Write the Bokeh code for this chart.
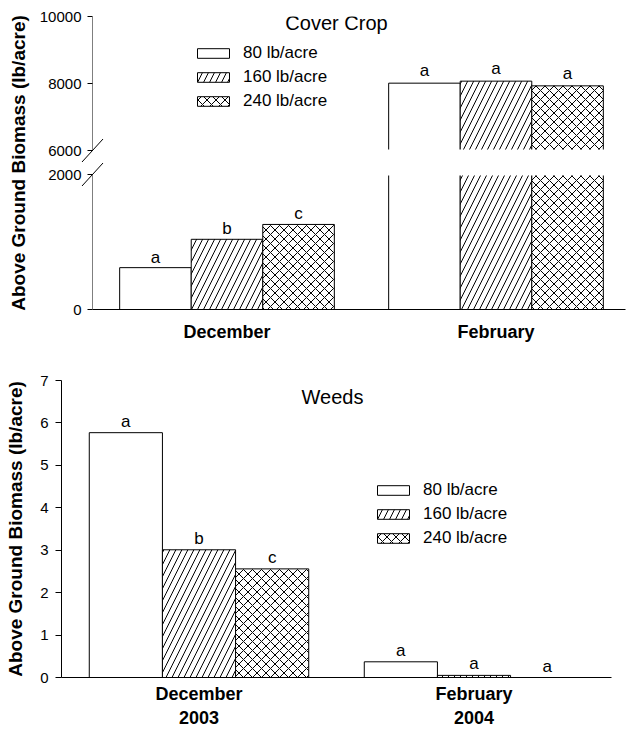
import numpy as np
from bokeh.plotting import figure
from bokeh.models import (ColumnDataSource, Range1d, LinearAxis, FixedTicker, LabelSet, Label,
                          Legend, LegendItem, BoxAnnotation)
from bokeh.core.properties import value
from bokeh.embed import file_html
from bokeh.resources import INLINE

# ---------------- data ----------------
months = ["December", "February"]
years = ["2003", "2004"]
rates = ["80 lb/acre", "160 lb/acre", "240 lb/acre"]

cover_80 = [620, 8010]
cover_160 = [1040, 8070]
cover_240 = [1260, 7930]
cover_letters_80 = ["a", "a"]
cover_letters_160 = ["b", "a"]
cover_letters_240 = ["c", "a"]

weeds_80 = [5.77, 0.37]
weeds_160 = [3.01, 0.05]
weeds_240 = [2.56, 0.0]
weeds_letters_80 = ["a", "a"]
weeds_letters_160 = ["b", "a"]
weeds_letters_240 = ["c", "a"]

cover_ticks_low = [0, 2000]
cover_ticks_high = [6000, 8000, 10000]
weeds_ticks = [0, 1, 2, 3, 4, 5, 6, 7]
LOW_MAX, HIGH_MIN, HIGH_MAX = 2000, 6000, 10000
WEEDS_MAX = 7

ylabel = "Above Ground Biomass (lb/acre)"
title_top = "Cover Crop"
title_bottom = "Weeds"

# ---------------- style ----------------
FONT = "Liberation Sans"
W = 626
BAR_W = 0.266
offsets = [-BAR_W, 0.0, BAR_W]
bar_styles = [dict(hatch_pattern=None),
              dict(hatch_pattern="/", hatch_scale=12, hatch_color="black", hatch_weight=1),
              dict(hatch_pattern="x", hatch_scale=9, hatch_color="black", hatch_weight=1)]

xc = np.arange(len(months)) + 0.5


def style_fig(p):
    p.xgrid.visible = False
    p.ygrid.visible = False
    p.outline_line_color = None
    p.background_fill_color = "white"
    p.border_fill_color = "white"


def style_y(ax, tick_out, standoff):
    ax.axis_line_color = "black"
    ax.major_tick_line_color = "black"
    ax.major_tick_out = tick_out
    ax.major_tick_in = 0
    ax.minor_tick_line_color = None
    ax.major_label_text_font = FONT
    ax.major_label_text_font_size = "15px"
    ax.major_label_text_color = "black"
    ax.major_label_standoff = standoff
    ax.axis_label = ylabel
    ax.axis_label_text_font = FONT
    ax.axis_label_text_font_size = "19px"
    ax.axis_label_text_font_style = "bold"
    ax.axis_label_text_color = "black"


def style_x(ax, standoff):
    ax.axis_line_color = "black"
    ax.major_tick_line_color = None
    ax.minor_tick_line_color = None
    ax.major_label_text_font = FONT
    ax.major_label_text_font_size = "18px"
    ax.major_label_text_font_style = "bold"
    ax.major_label_text_color = "black"
    ax.major_label_standoff = standoff


def letters(p, src, y, y_range_name="default", off=6):
    p.add_layout(LabelSet(x="x", y=y, text="lab", source=src, y_offset=off, y_range_name=y_range_name,
                          text_align="center", text_baseline="alphabetic",
                          text_font=value(FONT), text_font_size=value("17px"), text_color="black"))


def make_legend(renderers, loc):
    return Legend(items=[LegendItem(label=rates[i], renderers=[renderers[i]]) for i in range(3)],
                  location=loc, glyph_width=40, glyph_height=12, label_standoff=10, spacing=4,
                  padding=0, margin=0, border_line_color=None, background_fill_alpha=0,
                  label_text_font=FONT, label_text_font_size="17px", label_text_color="black")


# ================= top panel: Cover Crop (broken axis) =================
T_H, T_LEFT, T_RIGHT, T_TOP, T_FRAME_H = 353, 92, 1, 16, 293
T_BOTTOM = T_H - T_TOP - T_FRAME_H
T_LOW_PX = 135      # px height of the 0..LOW_MAX segment
T_HIGH_PX0 = 159    # px above frame bottom where HIGH_MIN sits
T_UNIT = 269        # px per month group
T_FRAME_W = W - T_LEFT - T_RIGHT

low_end = LOW_MAX * T_FRAME_H / T_LOW_PX
low_per_px = low_end / T_FRAME_H
hi_per_px = (HIGH_MAX - HIGH_MIN) / (T_FRAME_H - T_HIGH_PX0)
hi_start = HIGH_MIN - T_HIGH_PX0 * hi_per_px


def hi_to_low_units(v):
    return (T_HIGH_PX0 + (v - HIGH_MIN) / hi_per_px) * low_per_px


p1 = figure(width=W, height=T_H, x_range=Range1d(0, T_FRAME_W / T_UNIT), y_range=Range1d(0, low_end),
            output_backend="svg", toolbar_location=None,
            min_border_left=T_LEFT, min_border_right=T_RIGHT, min_border_top=T_TOP, min_border_bottom=T_BOTTOM)
p1.extra_y_ranges = {"upper": Range1d(hi_start, HIGH_MAX)}
style_fig(p1)

cover = [cover_80, cover_160, cover_240]
cover_letters = [cover_letters_80, cover_letters_160, cover_letters_240]
legend_r1 = []
for i in range(3):
    vals = np.array(cover[i], dtype=float)
    labs = np.array(cover_letters[i])
    xs = xc + offsets[i]
    src_low = ColumnDataSource(dict(x=xs, top=np.minimum(vals, LOW_MAX)))
    r = p1.vbar(x="x", top="top", bottom=0, width=BAR_W, source=src_low,
                fill_color="white", line_color="black", line_width=1, **bar_styles[i])
    legend_r1.append(r)
    hi = vals > HIGH_MIN
    src_hi = ColumnDataSource(dict(x=xs[hi], top=vals[hi], lab=labs[hi]))
    p1.vbar(x="x", top="top", bottom=HIGH_MIN, width=BAR_W, source=src_hi, y_range_name="upper",
            fill_color="white", line_color="black", line_width=1, **bar_styles[i])
    lo = ~hi
    letters(p1, ColumnDataSource(dict(x=xs[lo], y=vals[lo], lab=labs[lo])), "y", off=5)
    letters(p1, src_hi, "top", y_range_name="upper", off=7)

# white gap between the two segments
p1.add_layout(BoxAnnotation(bottom=(T_LOW_PX - 1) * low_per_px, top=(T_HIGH_PX0 + 1) * low_per_px,
                            fill_color="white", fill_alpha=1.0, line_color=None))

# y axis: ticks and labels for both segments (line drawn by the two bounded axes below)
hi_tick_pos = [hi_to_low_units(v) for v in cover_ticks_high]
yl = p1.yaxis[0]
yl.ticker = FixedTicker(ticks=list(cover_ticks_low) + hi_tick_pos)
yl.major_label_overrides = {pos: str(v) for pos, v in zip(hi_tick_pos, cover_ticks_high)}
style_y(yl, 5, 6)
yl.axis_line_color = None
yl.axis_label_standoff = 8

for rname, bnds in (("default", (0, LOW_MAX)), ("upper", (HIGH_MIN, HIGH_MAX))):
    ax = LinearAxis(y_range_name=rname, fixed_location=0, bounds=bnds, ticker=FixedTicker(ticks=[]),
                    axis_line_color="black", major_tick_line_color=None, minor_tick_line_color=None,
                    major_label_text_font_size="0px")
    p1.add_layout(ax, "left")

xa = p1.xaxis[0]
xa.ticker = FixedTicker(ticks=list(xc))
xa.major_label_overrides = {float(c): m for c, m in zip(xc, months)}
style_x(xa, 6)

# break marks
for cross_px in (T_LOW_PX, T_HIGH_PX0):
    p1.segment(x0=[-10.5 / T_UNIT], y0=[(cross_px - 11.5) * low_per_px],
               x1=[10.5 / T_UNIT], y1=[(cross_px + 11.5) * low_per_px],
               line_color="black", line_width=1, level="overlay")

p1.add_layout(Label(x=(336 - T_LEFT) / T_UNIT, y=(T_FRAME_H - 6) * low_per_px, text=title_top,
                    text_align="center", text_baseline="middle",
                    text_font=FONT, text_font_size="20px", text_color="black"))

p1.add_layout(make_legend(legend_r1, (101, 198)))

# ================= bottom panel: Weeds =================
B_H, B_LEFT, B_RIGHT, B_TOP, B_FRAME_H = 377, 61, 15, 27, 299
B_BOTTOM = B_H - B_TOP - B_FRAME_H
p2 = figure(width=W, height=B_H, x_range=Range1d(0, len(months)), y_range=Range1d(0, WEEDS_MAX),
            output_backend="svg", toolbar_location=None,
            min_border_left=B_LEFT, min_border_right=B_RIGHT, min_border_top=B_TOP, min_border_bottom=B_BOTTOM)
style_fig(p2)
B_UNIT = (W - B_LEFT - B_RIGHT) / len(months)
b_per_px = WEEDS_MAX / B_FRAME_H

weeds = [weeds_80, weeds_160, weeds_240]
weeds_letters = [weeds_letters_80, weeds_letters_160, weeds_letters_240]
legend_r2 = []
for i in range(3):
    src = ColumnDataSource(dict(x=xc + offsets[i], top=weeds[i], lab=weeds_letters[i]))
    r = p2.vbar(x="x", top="top", bottom=0, width=BAR_W, source=src,
                fill_color="white", line_color="black", line_width=1, **bar_styles[i])
    legend_r2.append(r)
    letters(p2, src, "top", off=6)

ya = p2.yaxis[0]
ya.ticker = FixedTicker(ticks=weeds_ticks)
style_y(ya, 6, 7)
ya.axis_label_standoff = 11

xb = p2.xaxis[0]
xb.ticker = FixedTicker(ticks=list(xc))
xb.major_label_overrides = {float(c): f"{m}\n{y}" for c, m, y in zip(xc, months, years)}
style_x(xb, 0)

p2.add_layout(Label(x=(332 - B_LEFT) / B_UNIT, y=WEEDS_MAX - (397 - 380) * b_per_px, text=title_bottom,
                    text_align="center", text_baseline="middle",
                    text_font=FONT, text_font_size="20px", text_color="black"))

p2.add_layout(make_legend(legend_r2, (312, 129)))

open("out.html", "w").write(file_html((p1, p2), INLINE))
